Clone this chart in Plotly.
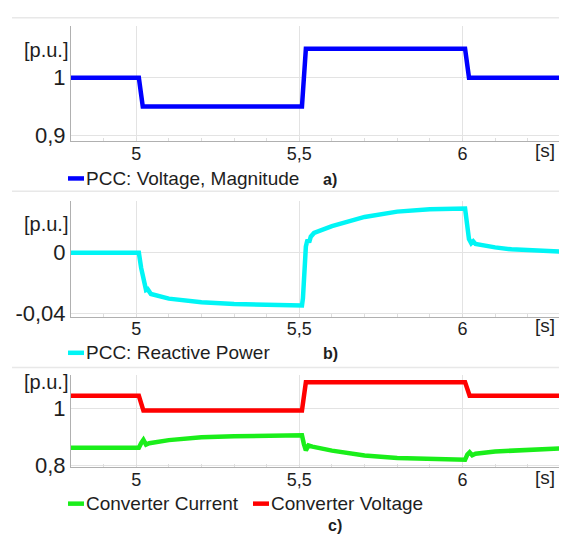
import plotly.graph_objects as go

W, H = 567, 538

# ---- data ----
t_a = [4.8, 5.008, 5.02, 5.508, 5.52, 6.008, 6.02, 6.345]
v_pcc = [1.0, 1.0, 0.95, 0.95, 1.05, 1.05, 1.0, 1.0]

t_b = [4.8, 5.008, 5.015, 5.025, 5.03, 5.035, 5.045, 5.1, 5.2, 5.3, 5.4, 5.508,
       5.511, 5.515, 5.52, 5.525, 5.53, 5.535, 5.545, 5.6, 5.7, 5.8, 5.9, 6.008,
       6.013, 6.02, 6.027, 6.033, 6.04, 6.05, 6.1, 6.15, 6.25, 6.345]
q_pcc = [0.0, 0.0, -0.01, -0.022, -0.0245, -0.024, -0.0272, -0.0302, -0.0326, -0.0338, -0.0344, -0.0347,
         -0.03, -0.012, 0.004, 0.0085, 0.0068, 0.0105, 0.013, 0.0175, 0.0235, 0.027, 0.0285, 0.029,
         0.02, 0.009, 0.0062, 0.0075, 0.0058, 0.0053, 0.0035, 0.0022, 0.001, 0.0003]

t_c = [4.8, 5.008, 5.015, 5.022, 5.03, 5.04, 5.1, 5.2, 5.3, 5.4, 5.508,
       5.514, 5.52, 5.528, 5.54, 5.6, 5.7, 5.8, 5.9, 6.008,
       6.015, 6.022, 6.03, 6.04, 6.1, 6.2, 6.3, 6.345]
i_conv = [0.862, 0.862, 0.878, 0.89, 0.873, 0.878, 0.889, 0.899, 0.903, 0.905, 0.906,
          0.875, 0.853, 0.87, 0.866, 0.852, 0.835, 0.826, 0.822, 0.82,
          0.838, 0.846, 0.836, 0.841, 0.849, 0.856, 0.86, 0.862]

t_c2 = [4.8, 5.008, 5.022, 5.508, 5.52, 6.008, 6.022, 6.345]
v_conv = [1.045, 1.045, 0.993, 0.993, 1.093, 1.093, 1.045, 1.045]

x_ticks = [5, 5.5, 6]
x_ticktext = ["5", "5,5", "6"]
ya_ticks, ya_text = [0.9, 1.0], ["0,9", "1"]
yb_ticks, yb_text = [-0.04, 0.0], ["-0,04", "0"]
yc_ticks, yc_text = [0.8, 1.0], ["0,8", "1"]

names = ["PCC: Voltage, Magnitude", "PCC: Reactive Power", "Converter Current", "Converter Voltage"]
colors = ["#0000ff", "#00f5f5", "#1aee1a", "#ff0000"]


def px(x):
    return x / W


def py(y):
    return 1 - y / H


FONT = "Liberation Sans, Arial, sans-serif"
TXT = "#1e1e1e"
GRID = "#e3e3e3"
AX = "#b0b0b0"
LW = 4.5

fig = go.Figure()
fig.add_trace(go.Scatter(x=t_a, y=v_pcc, mode="lines", line=dict(color=colors[0], width=LW),
                         xaxis="x", yaxis="y", showlegend=False))
fig.add_trace(go.Scatter(x=t_b, y=q_pcc, mode="lines", line=dict(color=colors[1], width=LW),
                         xaxis="x2", yaxis="y2", showlegend=False))
fig.add_trace(go.Scatter(x=t_c, y=i_conv, mode="lines", line=dict(color=colors[2], width=LW),
                         xaxis="x3", yaxis="y3", showlegend=False))
fig.add_trace(go.Scatter(x=t_c2, y=v_conv, mode="lines", line=dict(color=colors[3], width=LW),
                         xaxis="x3", yaxis="y3", showlegend=False))

xdom = [px(63), 1.0]
panels = [  # (top px, bottom px, yrange, ticks, text)
    (18, 136, [0.89, 1.09], ya_ticks, ya_text),
    (197, 315, [-0.042, 0.034], yb_ticks, yb_text),
    (375, 469, [0.793, 1.117], yc_ticks, yc_text),
]

layout = dict(width=W, height=H, margin=dict(l=0, r=0, t=0, b=0),
              paper_bgcolor="white", plot_bgcolor="white", showlegend=False,
              font=dict(family=FONT, color=TXT))
for i, (top, bot, yr, tv, tt) in enumerate(panels):
    s = "" if i == 0 else str(i + 1)
    layout["xaxis" + s] = dict(domain=xdom, range=[4.8, 6.345], anchor="y" + s,
                               tickvals=x_ticks, ticktext=x_ticktext,
                               showgrid=True, gridcolor=GRID, gridwidth=1,
                               showline=True, linecolor=AX, linewidth=1,
                               ticks="inside", ticklen=3, tickcolor="#dddddd",
                               ticklabelstandoff=-4,
                               minor=dict(dtick=0.1, tick0=5, ticks="inside", ticklen=3,
                                          tickcolor="#dddddd", showgrid=False),
                               tickfont=dict(size=18, color=TXT), zeroline=False, fixedrange=True)
    layout["yaxis" + s] = dict(domain=[py(bot), py(top)], range=yr, anchor="x" + s,
                               tickvals=tv, ticktext=tt, showgrid=True, gridcolor=GRID,
                               showline=True, linecolor=AX, linewidth=1, ticks="",
                               tickfont=dict(size=22, color=TXT), zeroline=False, fixedrange=True)
fig.update_layout(**layout)

ann = []
shapes = []
# separators
for y in [10, 187, 367]:
    shapes.append(dict(type="line", xref="paper", yref="paper", x0=px(4), x1=1, y0=py(y), y1=py(y),
                       line=dict(color="#e8e8e8", width=1.5)))
# [p.u.] and [s]
for yp in [43, 220, 382]:
    ann.append(dict(x=px(62), y=py(yp), xref="paper", yref="paper", text="[p.u.]", showarrow=False,
                    xanchor="right", yanchor="middle", font=dict(size=20, color=TXT)))
for yp in [145, 324, 479]:
    ann.append(dict(x=px(537), y=py(yp), xref="paper", yref="paper", text="[s]", showarrow=False,
                    xanchor="center", yanchor="middle", font=dict(size=19, color=TXT)))

# manual legends
def legend_item(x0, y, color, text):
    shapes.append(dict(type="line", xref="paper", yref="paper", x0=px(x0), x1=px(x0 + 16),
                       y0=py(y), y1=py(y), line=dict(color=color, width=LW)))
    ann.append(dict(x=px(x0 + 16), y=py(y), xref="paper", yref="paper", text=text, showarrow=False,
                    xanchor="left", yanchor="middle", font=dict(size=19, color=TXT)))

legend_item(60, 174, colors[0], names[0])
legend_item(60, 352, colors[1], names[1])
legend_item(60, 506, colors[2], names[2])
legend_item(245, 506, colors[3], names[3])

for txt, x, y in [("a)", 322, 175), ("b)", 322, 353), ("c)", 327, 528)]:
    ann.append(dict(x=px(x), y=py(y), xref="paper", yref="paper", text="<b>" + txt + "</b>",
                    showarrow=False, xanchor="center", yanchor="middle",
                    font=dict(size=16, color=TXT)))

fig.update_layout(annotations=ann, shapes=shapes)
fig.write_html("out.html")
